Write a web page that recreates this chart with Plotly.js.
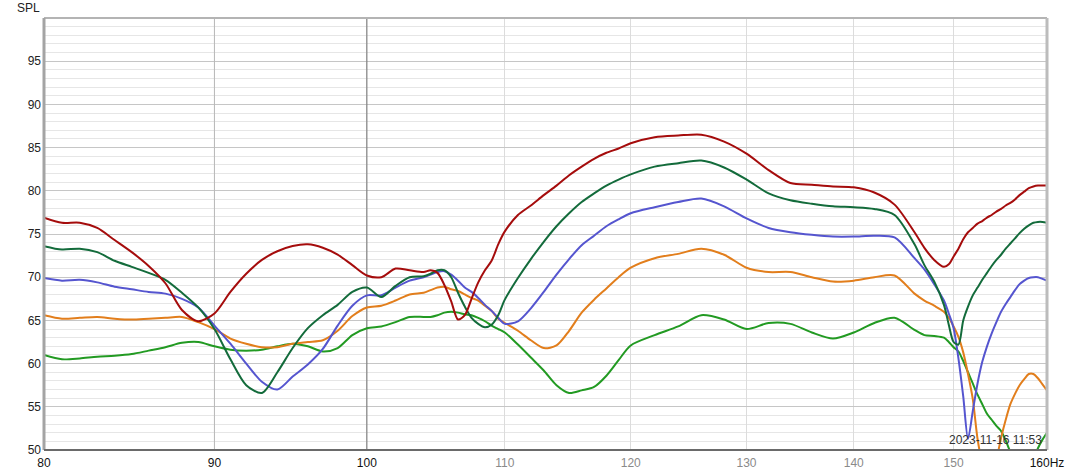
<!DOCTYPE html>
<html>
<head>
<meta charset="utf-8">
<script src="https://cdn.plot.ly/plotly-3.0.1.min.js"></script>
<style>html,body{margin:0;padding:0;background:#fff;}#chart{width:1068px;height:474px;}</style>
</head>
<body>
<div id="chart"></div>
<script>
// Frequencies (Hz)
const freqs = [80,81,82,83,84,85,86,87,88,89,90,91,92,93,94,95,96,97,98,99,100,101,102,103,104,
  104.5,105,105.5,106,106.5,107,107.5,108,108.5,109,109.5,110,
  111,112,113,114,115,116,117,118,119,120,
  122,124,126,128,130,132,134,136,138,140,142,144,146,
  147,148,149,149.5,150,150.5,151,151.5,152,152.5,153,153.5,154,154.5,155,155.5,156,156.5,157,157.5,158,158.5,159,159.5,160];

// SPL (dB) per measurement
const splRed = [76.9,76.3,76.3,75.7,74.3,72.9,71.3,69.3,66.2,64.9,65.8,68.3,70.4,72.0,73.0,73.6,73.8,73.4,72.6,71.4,70.2,70.0,71.0,70.8,70.6,
  70.8,70.5,69.1,67.2,65.1,65.6,67.5,69.4,70.8,71.9,73.8,75.3,
  77.2,78.3,79.5,80.6,81.8,82.8,83.7,84.4,84.9,85.5,
  86.2,86.4,86.5,85.7,84.3,82.4,80.9,80.7,80.5,80.4,79.8,78.4,75.2,
  73.4,72.0,71.2,71.5,72.4,73.3,74.4,75.2,75.7,76.2,76.5,76.9,77.2,77.6,77.9,78.3,78.6,79.0,79.5,79.9,80.3,80.5,80.6,80.6,80.6];

const splDarkGreen = [73.6,73.2,73.3,72.9,71.9,71.2,70.5,69.7,68.2,66.5,64.0,60.5,57.5,56.6,59.0,61.8,64.1,65.6,66.8,68.3,68.8,67.7,69.0,70.0,70.1,
  70.4,70.8,70.8,70.0,68.2,66.6,65.3,64.6,64.2,64.5,65.6,67.4,
  69.9,72.1,74.1,75.9,77.4,78.7,79.7,80.6,81.3,81.9,
  82.8,83.2,83.5,82.7,81.3,79.7,78.9,78.5,78.2,78.1,77.9,77.2,73.8,
  71.4,69.5,66.8,64.5,62.5,62.2,65.0,66.6,67.9,68.8,69.7,70.5,71.3,72.0,72.6,73.3,73.9,74.5,75.1,75.6,76.0,76.3,76.4,76.4,76.3];

const splBlue = [69.9,69.6,69.7,69.4,68.9,68.6,68.3,68.1,67.5,66.5,64.4,62.3,60.0,57.9,57.0,58.5,59.9,61.7,64.4,66.7,67.9,67.9,68.8,69.6,70.0,
  70.3,70.6,70.7,70.3,69.6,68.8,68.3,67.6,66.8,66.1,65.3,64.6,
  64.9,66.4,68.3,70.3,72.1,73.7,74.8,75.9,76.7,77.4,
  78.1,78.7,79.1,78.2,76.8,75.7,75.2,74.9,74.7,74.7,74.8,74.6,72.2,
  70.9,69.2,67.3,65.8,64.1,60.6,56.2,51.3,54.5,57.7,60.2,62.0,63.5,64.8,66.0,66.9,67.7,68.5,69.2,69.6,69.9,70.0,70.0,69.8,69.6];

const splOrange = [65.6,65.2,65.3,65.4,65.2,65.1,65.2,65.3,65.4,64.8,64.0,62.9,62.3,61.9,61.9,62.3,62.5,62.7,63.8,65.5,66.5,66.7,67.3,68.0,68.2,
  68.5,68.8,68.9,68.6,68.4,68.0,67.6,67.3,66.7,66.1,65.2,64.7,
  63.8,62.7,61.8,62.1,63.8,65.9,67.4,68.7,70.0,71.1,
  72.2,72.7,73.3,72.6,71.1,70.6,70.6,70.0,69.5,69.6,70.0,70.2,68.1,
  67.3,66.7,66.0,65.3,64.3,63.1,61.3,58.8,55.9,51.3,48.5,47.3,46.8,48.8,51.4,53.5,55.3,56.5,57.5,58.2,58.8,58.8,58.3,57.6,56.9];

const splGreen = [61.0,60.5,60.6,60.8,60.9,61.1,61.5,61.9,62.4,62.5,62.0,61.6,61.5,61.6,62.0,62.3,62.0,61.4,61.8,63.3,64.1,64.3,64.8,65.4,65.4,
  65.4,65.6,65.9,66.0,65.9,65.7,65.6,65.3,64.9,64.4,64.0,63.6,
  62.2,60.7,59.2,57.5,56.6,56.9,57.3,58.6,60.4,62.1,
  63.3,64.3,65.6,65.1,64.0,64.7,64.6,63.6,62.9,63.6,64.7,65.3,63.9,
  63.3,63.2,63.0,62.5,61.9,61.4,60.3,59.0,57.7,56.4,55.3,54.2,53.5,52.8,52.2,51.1,49.8,49.0,48.4,48.1,48.2,48.9,50.2,51.2,52.0];

// Axis ticks
const xTickVals = [80,90,100,110,120,130,140,150,160];
const xTickLabels = ['80','90','100','110','120','130','140','150','160Hz'];
const xTickDim = [false,false,false,true,true,true,true,true,false];
const yTickVals = [50,55,60,65,70,75,80,85,90,95];
const refFreqs = [90,100];
const refColors = ['#b8b8b8','#707070'];

const series = [
  {name:'green', y:splGreen, color:'#229a22'},
  {name:'orange', y:splOrange, color:'#e27e1c'},
  {name:'blue', y:splBlue, color:'#5555cf'},
  {name:'darkgreen', y:splDarkGreen, color:'#136b3b'},
  {name:'red', y:splRed, color:'#a50c0c'}
];

const traces = [];
refFreqs.forEach((f,i)=>{
  traces.push({x:[f,f], y:[50,100], mode:'lines', line:{color:refColors[i], width:1},
    hoverinfo:'skip', showlegend:false});
});
series.forEach(s=>{
  traces.push({x:freqs, y:s.y, name:s.name, mode:'lines',
    line:{color:s.color, width:2, shape:'spline', smoothing:0.8}, showlegend:false});
});

const font = {family:'"Liberation Sans", Arial, sans-serif', size:12, color:'#222'};

const layout = {
  width:1068, height:474,
  margin:{l:44, r:21, t:18, b:24},
  paper_bgcolor:'#ffffff', plot_bgcolor:'#ffffff',
  font:font,
  showlegend:false,
  xaxis:{
    type:'log', range:[Math.log10(80), Math.log10(160)],
    tickmode:'array', tickvals:xTickVals,
    ticktext:xTickLabels.map((t,i)=> xTickDim[i] ? '<span style="color:#8a8a8a">'+t+'</span>' : t),
    showgrid:true, gridcolor:'#dcdcdc', gridwidth:1,
    zeroline:false, ticks:'', showline:false, ticklabelstandoff:4,
    tickfont:{family:font.family, size:12, color:'#111'}
  },
  yaxis:{
    range:[50,100], tickmode:'array', tickvals:yTickVals,
    showgrid:true, gridcolor:'#c6c6c6', gridwidth:1,
    minor:{dtick:1, tick0:50, showgrid:true, gridcolor:'#e6e6e6', gridwidth:1, ticks:''},
    zeroline:false, ticks:'', showline:false, ticklabelstandoff:2,
    tickfont:{family:font.family, size:12, color:'#222'}
  },
  shapes:[
    {type:'line', xref:'paper', yref:'paper', x0:0, x1:1, y0:1, y1:1, line:{color:'#b4b4b4', width:2}},
    {type:'line', xref:'paper', yref:'paper', x0:1, x1:1, y0:0, y1:1, line:{color:'#bcbcbc', width:3}},
    {type:'line', xref:'paper', yref:'paper', x0:0, x1:0, y0:0, y1:1, line:{color:'#a4a4a4', width:3}},
    {type:'line', xref:'paper', yref:'paper', x0:0, x1:1, y0:0, y1:0, line:{color:'#6a6a6a', width:2}}
  ],
  annotations:[
    {text:'SPL', xref:'paper', yref:'paper', x:0, y:1, xanchor:'right', yanchor:'bottom',
      xshift:-2, yshift:1, showarrow:false, font:{family:font.family, size:12, color:'#222'}},
    {text:'2023-11-16 11:53', xref:'paper', yref:'paper', x:1, y:0, xanchor:'right', yanchor:'bottom',
      xshift:-3, yshift:1, showarrow:false, font:{family:font.family, size:12, color:'#333'}}
  ]
};

Plotly.newPlot('chart', traces, layout, {staticPlot:true, displayModeBar:false});
</script>
</body>
</html>
